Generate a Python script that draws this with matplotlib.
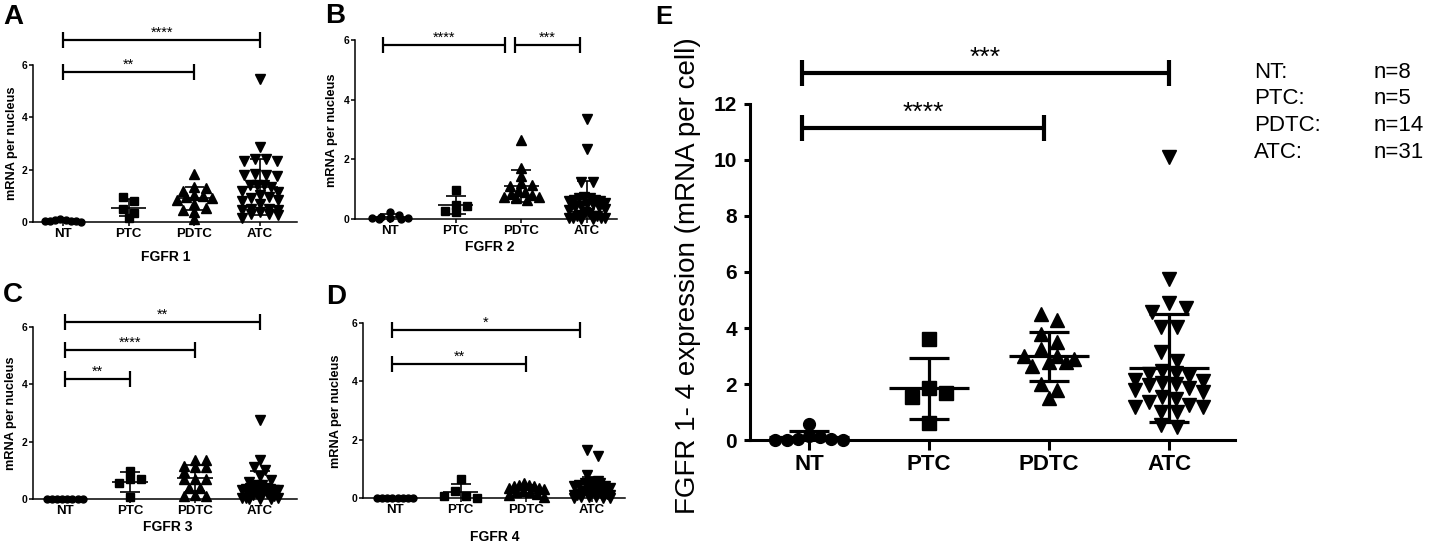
import numpy as np
import matplotlib
matplotlib.use("Agg")
import matplotlib.pyplot as plt

plt.rcParams['font.family'] = ['Liberation Sans', 'DejaVu Sans']

# ---------------- data ----------------
groups = ['NT', 'PTC', 'PDTC', 'ATC']
legend_n = ['n=8', 'n=5', 'n=14', 'n=31']

A_NT = [0.0, 0.02, 0.03, 0.05, 0.08, 0.1, 0.06, 0.02]
A_PTC = [0.95, 0.8, 0.5, 0.34, 0.15]
A_PDTC = [1.85, 1.35, 1.3, 1.2, 1.05, 1.0, 0.95, 0.9, 0.85, 0.7, 0.55, 0.45, 0.4, 0.1]
A_ATC = [5.45, 2.88, 2.4, 2.4, 2.35, 2.35, 1.85, 1.8, 1.8, 1.75, 1.4, 1.4, 1.4, 1.35,
         1.2, 1.15, 1.05, 0.95, 0.9, 0.85, 0.8, 0.7, 0.5, 0.5, 0.45, 0.45, 0.4, 0.3,
         0.3, 0.25, 0.15]

B_NT = [0.0, 0.02, 0.05, 0.08, 0.12, 0.25, 0.05, 0.0]
B_PTC = [0.96, 0.42, 0.46, 0.23, 0.26]
B_PDTC = [2.65, 1.7, 1.45, 1.2, 1.15, 1.1, 0.95, 0.9, 0.85, 0.8, 0.75, 0.75, 0.7, 0.65]
B_ATC = [3.35, 2.35, 1.25, 1.25, 0.75, 0.7, 0.7, 0.65, 0.65, 0.6, 0.6, 0.55, 0.5, 0.5,
         0.45, 0.4, 0.4, 0.35, 0.3, 0.25, 0.2, 0.15, 0.1, 0.1, 0.1, 0.05, 0.05, 0.05,
         0.05, 0.0, 0.0]

C_NT = [0.0, 0.0, 0.0, 0.0, 0.0, 0.0, 0.0, 0.0]
C_PTC = [0.98, 0.7, 0.7, 0.55, 0.06]
C_PDTC = [1.35, 1.35, 1.15, 1.1, 1.1, 0.95, 0.7, 0.7, 0.7, 0.4, 0.4, 0.15, 0.1, 0.1]
C_ATC = [2.75, 1.35, 1.1, 1.0, 0.8, 0.65, 0.6, 0.5, 0.5, 0.45, 0.4, 0.4, 0.35, 0.35,
         0.3, 0.3, 0.3, 0.25, 0.25, 0.2, 0.2, 0.15, 0.15, 0.1, 0.1, 0.05, 0.05, 0.05,
         0.0, 0.0, 0.0]

D_NT = [0.0, 0.0, 0.0, 0.0, 0.0, 0.0, 0.0, 0.0]
D_PTC = [0.65, 0.23, 0.06, 0.0, 0.06]
D_PDTC = [0.5, 0.45, 0.45, 0.4, 0.4, 0.35, 0.35, 0.3, 0.25, 0.2, 0.2, 0.15, 0.1, 0.05]
D_ATC = [1.65, 1.45, 0.8, 0.6, 0.55, 0.55, 0.5, 0.5, 0.45, 0.4, 0.4, 0.35, 0.3, 0.3,
         0.3, 0.25, 0.25, 0.2, 0.2, 0.2, 0.15, 0.15, 0.1, 0.1, 0.1, 0.05, 0.05, 0.05,
         0.0, 0.0, 0.0]

E_NT = [0.57, 0.15, 0.1, 0.05, 0.02, 0.0, 0.0, 0.0]
E_PTC = [3.6, 1.68, 1.86, 1.53, 0.6]
E_PDTC = [4.3, 4.5, 3.8, 3.5, 3.0, 2.9, 3.0, 3.25, 2.8, 2.65, 2.8, 2.0, 1.8, 1.5]
E_ATC = [10.1, 5.75, 4.88, 4.73, 4.58, 4.05, 4.03, 3.15, 2.83, 2.45, 2.4, 2.35, 2.3,
         2.15, 2.1, 2.05, 2.0, 1.95, 1.85, 1.8, 1.7, 1.55, 1.45, 1.35, 1.25, 1.18,
         1.18, 1.0, 1.0, 0.55, 0.46]

# significance brackets: (from, to, height, label)
SIG_A = [(1, 4, 6.95, '****'), (1, 3, 5.75, '**')]
SIG_B = [(0.89, 2.75, 5.83, '****'), (2.9, 3.9, 5.83, '***')]
SIG_C = [(1, 4, 6.17, '**'), (1, 3, 5.2, '****'), (1, 2, 4.2, '**')]
SIG_D = [(0.95, 3.82, 5.76, '*'), (0.95, 3.0, 4.6, '**')]
SIG_E = [(0.94, 4.0, 13.1, '***'), (0.94, 2.96, 11.14, '****')]

# ---------------- layout ----------------
W, H = 1431, 547
fig = plt.figure(figsize=(W / 100, H / 100), dpi=100)
markers = ['o', 's', '^', 'v']


def ftext(x, y, s, **kw):
    return fig.text(x / W, 1 - y / H, s, **kw)


def row_offsets(vals, sx, sy, d, spacing_f, maxhalf, row_f):
    """GraphPad-like scatter: bin points into rows, spread each row symmetrically."""
    vals = np.asarray(vals, float)
    order = np.argsort(-vals, kind='stable')
    rows, cur = [], []
    for i in order:
        if cur and (vals[cur[0]] - vals[i]) * sy > row_f * d:
            rows.append(cur)
            cur = []
        cur.append(i)
    if cur:
        rows.append(cur)
    off = np.zeros(len(vals))
    for r in rows:
        n = len(r)
        if n == 1:
            continue
        sp = min(spacing_f * d, 2 * maxhalf * sx / (n - 1))
        slots = [(j - (n - 1) / 2) for j in range(n)]
        slots.sort(key=lambda s: (abs(s), -s if len(r) % 2 else s))
        ordered = sorted(r, key=lambda k: -vals[k])
        for s, i in zip(slots, ordered):
            off[i] = s * sp / sx
    return off


def draw_panel(box, xlim, ylim, yticks, data, sig, big):
    l, t, r, b = box
    ax = fig.add_axes([l / W, 1 - b / H, (r - l) / W, (b - t) / H])
    ax.set_xlim(*xlim)
    ax.set_ylim(*ylim)
    sx = (r - l) / (xlim[1] - xlim[0])
    sy = (b - t) / (ylim[1] - ylim[0])
    if big:
        msizes = [8.5, 9.5, 9.5, 9.5]
        lw_spine, lw_mean, lw_sig = 2.2, 2.3, 3.0
        mean_hw, cap_hw, sig_cap_px = 0.33, 0.17, 13
        dpx = 13.0
        star_fs, star_off = 19, 8
        maxhalf = 0.28
    else:
        msizes = [5.0, 6.0, 6.5, 6.5]
        lw_spine, lw_mean, lw_sig = 1.1, 1.2, 1.6
        mean_hw, cap_hw, sig_cap_px = 0.27, 0.15, 8
        dpx = 8.5
        star_fs, star_off = 10.5, 3
        maxhalf = 0.27

    for k, vals in enumerate(data):
        x0 = k + 1
        v = np.asarray(vals, float)
        offs = row_offsets(v, sx, sy, dpx, 1.3, maxhalf, 0.8)
        ax.plot(x0 + offs, v, linestyle='none', marker=markers[k], ms=msizes[k],
                color='black', mec='black', clip_on=False, zorder=3)
        m = np.mean(v)
        s = np.std(v, ddof=1)
        lo = max(m - s, 0.0)
        ax.hlines(m, x0 - mean_hw, x0 + mean_hw, color='black', lw=lw_mean,
                  clip_on=False, zorder=4)
        if s > 0:
            ax.vlines(x0, lo, m + s, color='black', lw=lw_mean, clip_on=False, zorder=4)
            caps = [m + s] + ([m - s] if m - s >= 0 else [])
            ax.hlines(caps, x0 - cap_hw, x0 + cap_hw, color='black', lw=lw_mean,
                      clip_on=False, zorder=4)

    ch = sig_cap_px / sy
    for x1, x2, y, lab in sig:
        ax.plot([x1, x2], [y, y], color='black', lw=lw_sig, clip_on=False,
                solid_capstyle='butt')
        ax.vlines([x1, x2], y - ch, y + ch, color='black', lw=lw_sig, clip_on=False)
        ax.text((x1 + x2) / 2, y + star_off / sy, lab, ha='center', va='baseline',
                fontsize=star_fs, clip_on=False)

    for sp in ['top', 'right']:
        ax.spines[sp].set_visible(False)
    for sp in ['left', 'bottom']:
        ax.spines[sp].set_linewidth(lw_spine)
    ax.set_xticks([1, 2, 3, 4])
    ax.set_xticklabels(groups, fontweight='bold')
    ax.set_yticks(yticks)
    ax.set_yticklabels([str(v) for v in yticks], fontweight='bold')
    if big:
        ax.tick_params(axis='x', length=7.2, width=2.2, pad=2.8, labelsize=16)
        ax.tick_params(axis='y', length=4.3, width=2.2, pad=5, labelsize=15)
    else:
        ax.tick_params(axis='x', length=2.9, width=1.1, pad=1.2, labelsize=9.5)
        ax.tick_params(axis='y', length=2.9, width=1.1, pad=0.8, labelsize=7.5)
    return ax


draw_panel((33, 65, 297, 222), (0.543, 4.56), (0, 6), [0, 2, 4, 6],
           [A_NT, A_PTC, A_PDTC, A_ATC], SIG_A, False)
draw_panel((355, 40, 617, 219), (0.467, 4.457), (0, 6), [0, 2, 4, 6],
           [B_NT, B_PTC, B_PDTC, B_ATC], SIG_B, False)
draw_panel((33, 327, 297, 499), (0.508, 4.57), (0, 6), [0, 2, 4, 6],
           [C_NT, C_PTC, C_PDTC, C_ATC], SIG_C, False)
draw_panel((363, 323, 625, 498), (0.513, 4.50), (0, 6), [0, 2, 4, 6],
           [D_NT, D_PTC, D_PDTC, D_ATC], SIG_D, False)
draw_panel((750, 104, 1235, 440), (0.508, 4.55), (0, 12), [0, 2, 4, 6, 8, 10, 12],
           [E_NT, E_PTC, E_PDTC, E_ATC], SIG_E, True)

# panel letters
for lab, (x, y) in zip('ABCDE', [(3, 4), (325, 3), (3, 282), (326, 284), (655, 5)]):
    ftext(x, y, lab, fontsize=20 if lab != 'E' else 18.5, fontweight='bold',
          ha='left', va='top')

# small panel axis titles
for lab, (x, y) in zip(['FGFR 1', 'FGFR 2', 'FGFR 3', 'FGFR 4'],
                       [(166, 257), (490, 247), (168, 527), (495, 537)]):
    ftext(x, y, lab, fontsize=10, fontweight='bold', ha='center', va='center')
for (x, y) in [(12, 143), (332, 130), (11, 413), (336, 411)]:
    ftext(x, y, 'mRNA per nucleus', fontsize=9.2, fontweight='bold', rotation=90,
          ha='center', va='center')

ftext(688, 276, 'FGFR 1- 4 expression (mRNA per cell)', fontsize=20, rotation=90,
      ha='center', va='center')

# legend block
for i, (g, n) in enumerate(zip(groups, legend_n)):
    y = 72 + i * 26.7
    ftext(1254, y, g + ':', fontsize=16, ha='left', va='center')
    ftext(1374, y, n, fontsize=16, ha='left', va='center')

fig.savefig('out.png', dpi=100)
